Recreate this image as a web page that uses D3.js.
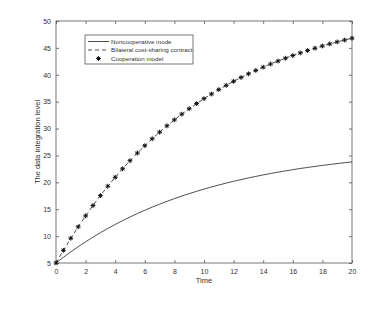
<!DOCTYPE html>
<html>
<head>
<meta charset="utf-8">
<script src="https://d3js.org/d3.v7.min.js"></script>
<style>
  body { margin: 0; background: #fff; }
  svg text { font-family: "Liberation Sans", Arial, sans-serif; fill: #333; }
</style>
</head>
<body>
<div id="chart"></div>
<script>
// time grid, every 0.5
const time = d3.range(0, 20.001, 0.5);
const noncooperative = [5.00, 6.06, 7.07, 8.03, 8.94, 9.81, 10.63, 11.42, 12.17, 12.88,
  13.55, 14.20, 14.81, 15.39, 15.94, 16.47, 16.97, 17.45, 17.90, 18.33,
  18.74, 19.13, 19.50, 19.86, 20.19, 20.51, 20.82, 21.10, 21.38, 21.64,
  21.89, 22.13, 22.35, 22.57, 22.77, 22.96, 23.15, 23.32, 23.49, 23.65, 23.80];
const bilateral = [5.00, 7.36, 9.60, 11.73, 13.76, 15.69, 17.53, 19.28, 20.94, 22.52,
  24.02, 25.45, 26.81, 28.10, 29.33, 30.51, 31.62, 32.68, 33.69, 34.64,
  35.56, 36.42, 37.25, 38.03, 38.78, 39.49, 40.17, 40.81, 41.42, 42.00,
  42.55, 43.08, 43.58, 44.06, 44.51, 44.94, 45.35, 45.74, 46.11, 46.46, 46.80];
const cooperation = bilateral.slice();
const xTicks = d3.range(0, 21, 2);
const yTicks = d3.range(5, 51, 5);
const legendLabels = ["Noncooperative mode", "Bilateral cost-sharing contract", "Cooperation model"];

const width = 390, height = 310;
const margin = { left: 56, right: 38, top: 21, bottom: 47 };
const svg = d3.select("#chart").append("svg").attr("width", width).attr("height", height);

const x = d3.scaleLinear().domain([0, 20]).range([margin.left, width - margin.right]);
const y = d3.scaleLinear().domain([5, 50]).range([height - margin.bottom, margin.top]);

const axisColor = "#555";
function styleAxis(g) {
  g.select(".domain").remove();
  g.selectAll(".tick line").attr("stroke", axisColor).attr("stroke-width", 0.8);
  g.selectAll(".tick text").style("font-size", "7px").attr("fill", "#444");
}

// bottom / left with labels, ticks pointing inward
svg.append("g").attr("transform", `translate(0,${y(5)})`)
  .call(d3.axisBottom(x).tickValues(xTicks).tickSizeInner(-3).tickSizeOuter(0).tickPadding(6))
  .call(styleAxis);
svg.append("g").attr("transform", `translate(${x(0)},0)`)
  .call(d3.axisLeft(y).tickValues(yTicks).tickSizeInner(-3).tickSizeOuter(0).tickPadding(5))
  .call(styleAxis);
// top / right ticks only
svg.append("g").attr("transform", `translate(0,${y(50)})`)
  .call(d3.axisTop(x).tickValues(xTicks).tickSizeInner(-3).tickSizeOuter(0).tickFormat(""))
  .call(styleAxis);
svg.append("g").attr("transform", `translate(${x(20)},0)`)
  .call(d3.axisRight(y).tickValues(yTicks).tickSizeInner(-3).tickSizeOuter(0).tickFormat(""))
  .call(styleAxis);

svg.append("rect")
  .attr("x", x(0)).attr("y", y(50))
  .attr("width", x(20) - x(0)).attr("height", y(5) - y(50))
  .attr("fill", "none").attr("stroke", axisColor).attr("stroke-width", 0.8);

const line = d3.line().x((d, i) => x(time[i])).y(d => y(d));

svg.append("path").datum(noncooperative)
  .attr("d", line).attr("fill", "none").attr("stroke", "#222").attr("stroke-width", 0.8);
svg.append("path").datum(bilateral)
  .attr("d", line).attr("fill", "none").attr("stroke", "#222").attr("stroke-width", 0.8)
  .attr("stroke-dasharray", "4,3");

function asterisk(g, cx, cy, r) {
  const a = r * 0.707;
  const segs = [[-r, 0, r, 0], [0, -r, 0, r], [-a, -a, a, a], [-a, a, a, -a]];
  segs.forEach(s => g.append("line")
    .attr("x1", cx + s[0]).attr("y1", cy + s[1]).attr("x2", cx + s[2]).attr("y2", cy + s[3])
    .attr("stroke", "#111").attr("stroke-width", 1));
}
const markers = svg.append("g");
cooperation.forEach((v, i) => asterisk(markers, x(time[i]), y(v), 2.4));

// axis titles
svg.append("text").attr("x", (x(0) + x(20)) / 2).attr("y", 283)
  .attr("text-anchor", "middle").style("font-size", "7.5px").text("Time");
svg.append("text")
  .attr("transform", `translate(40,${(y(5) + y(50)) / 2}) rotate(-90)`)
  .attr("text-anchor", "middle").style("font-size", "7.5px").text("The data integration level");

// legend
const lg = svg.append("g");
lg.append("rect").attr("x", 85).attr("y", 35).attr("width", 108).attr("height", 29)
  .attr("fill", "#fff").attr("stroke", axisColor).attr("stroke-width", 0.8);
const rowY = [41.5, 50, 58.5];
legendLabels.forEach((lab, i) => {
  if (i === 0) {
    lg.append("line").attr("x1", 88).attr("x2", 109).attr("y1", rowY[i]).attr("y2", rowY[i])
      .attr("stroke", "#222").attr("stroke-width", 0.8);
  } else if (i === 1) {
    lg.append("line").attr("x1", 88).attr("x2", 109).attr("y1", rowY[i]).attr("y2", rowY[i])
      .attr("stroke", "#222").attr("stroke-width", 0.8).attr("stroke-dasharray", "4,3");
  } else {
    asterisk(lg, 98.5, rowY[i], 2.4);
  }
  lg.append("text").attr("x", 111).attr("y", rowY[i]).attr("dy", "0.35em")
    .style("font-size", "6.2px").attr("fill", "#222").text(lab);
});
</script>
</body>
</html>
